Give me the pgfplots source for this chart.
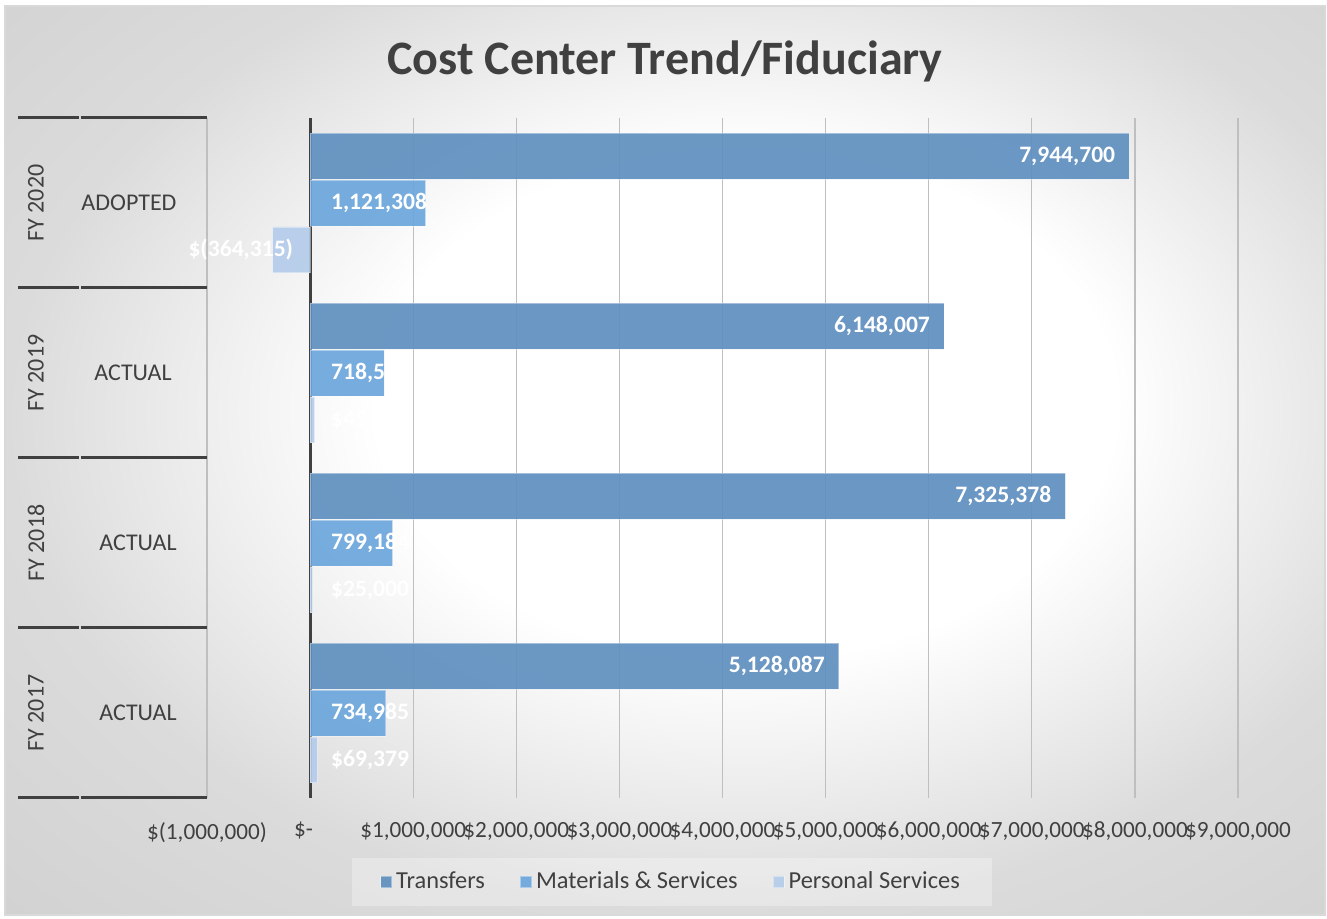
\documentclass[border=0pt]{standalone}
\usepackage{pgfplots}
\pgfplotsset{compat=1.18}
\usepackage{fontspec}
\setmainfont{Carlito}
\definecolor{txt}{HTML}{404040}
\definecolor{cT}{HTML}{5F8FBF}
\definecolor{cM}{HTML}{6CA6DC}
\definecolor{cP}{HTML}{B4CCEA}
\definecolor{grd}{HTML}{BFBFBF}
\pgfdeclareradialshading{bgshade}{\pgfpoint{4bp}{4bp}}{color(0bp)=(white); color(14bp)=(white); color(27bp)=(black!14); color(44bp)=(black!20); color(60bp)=(black!24)}
\pgfplotsset{sq legend/.style={legend image code/.code={\fill[##1] (0pt,-2.8pt) rectangle (5.6pt,2.8pt);}}}
\begin{document}
\begin{tikzpicture}[x=1pt,y=1pt]
\useasboundingbox (0,0) rectangle (663.5,459.5);
\shade[shading=bgshade] (2.5,2) rectangle (662.5,456.5);
\draw[black!15, line width=0.6pt] (2.5,2) rectangle (662.5,456.5);
\begin{axis}[
  at={(103.5pt,60.5pt)}, anchor=south west,
  scale only axis, width=515.5pt, height=340pt,
  xmin=-1000000, xmax=9000000, ymin=-0.5, ymax=3.5,
  axis x line*=bottom, axis y line*=left, axis line style={draw=none},
  xtick={-1000000,0,1000000,2000000,3000000,4000000,5000000,6000000,7000000,8000000,9000000},
  xticklabels={{\$(1,000,000)},{\$-\kern6.5pt},{\$1,000,000},{\$2,000,000},{\$3,000,000},{\$4,000,000},{\$5,000,000},{\$6,000,000},{\$7,000,000},{\$8,000,000},{\$9,000,000}},
  scaled x ticks=false,
  ytick=\empty,
  major tick length=0pt,
  xmajorgrids, major grid style={grd, line width=0.6pt},
  extra x ticks={0}, extra x tick labels={},
  extra x tick style={major grid style={txt, line width=1.6pt}},
  xticklabel style={font=\fontsize{11.6}{13}\selectfont, text=txt, yshift=-8.5pt},
  clip=false,
  legend columns=3,
  legend cell align=left,
  legend style={at={(0.451,-0.1235)}, anchor=center, draw=none, fill=white, fill opacity=0.3, text opacity=1,
    font=\fontsize{12.2}{14}\selectfont, text=txt, inner xsep=14pt, inner ysep=5pt,
    /tikz/every even column/.append style={column sep=15.5pt}},
]
\addplot[xbar, bar shift=0pt, bar width=0.27, fill=cT, fill opacity=0.92, draw=white, draw opacity=0.4, line width=0.4pt, sq legend]
  coordinates {(5128087,0.276) (7325378,1.276) (6148007,2.276) (7944700,3.276)};
\addlegendentry{Transfers}
\addplot[xbar, bar shift=0pt, bar width=0.27, fill=cM, fill opacity=0.92, draw=white, draw opacity=0.4, line width=0.4pt, sq legend]
  coordinates {(734985,0) (799184,1) (718512,2) (1121308,3)};
\addlegendentry{Materials \& Services}
\addplot[xbar, bar shift=0pt, bar width=0.27, fill=cP, fill opacity=0.92, draw=white, draw opacity=0.4, line width=0.4pt, sq legend]
  coordinates {(69379,-0.276) (25000,0.724) (45000,1.724) (-364315,2.724)};
\addlegendentry{Personal Services}
% data labels
\addplot[draw=none, forget plot, nodes near coords, point meta=explicit symbolic,
  every node near coord/.append style={anchor=east, xshift=-3.5pt, text=white, font=\bfseries\fontsize{11.8}{14}\selectfont}]
  coordinates {(5128087,0.276) [5,128,087] (7325378,1.276) [7,325,378] (6148007,2.276) [6,148,007] (7944700,3.276) [7,944,700]};
\addplot[draw=none, forget plot, nodes near coords, point meta=explicit symbolic,
  every node near coord/.append style={anchor=west, xshift=7pt, text=white, font=\bfseries\fontsize{11.8}{14}\selectfont}]
  coordinates {(0,0) [734,985] (0,1) [799,184] (0,2) [718,512] (0,3) [1,121,308]};
\addplot[draw=none, forget plot, nodes near coords, point meta=explicit symbolic,
  every node near coord/.append style={anchor=west, xshift=7pt, text=white, font=\bfseries\fontsize{11.8}{14}\selectfont}]
  coordinates {(0,-0.276) [\$69,379] (0,0.724) [\$25,000] (0,1.724) [\$45,000]};
\addplot[draw=none, forget plot, nodes near coords, point meta=explicit symbolic,
  every node near coord/.append style={anchor=east, xshift=-5pt, text=white, font=\bfseries\fontsize{11.8}{14}\selectfont}]
  coordinates {(0,2.724) [\$(364,315)]};
\end{axis}
% category axis
\foreach \Y in {400.5,315.5,230.5,145.5,60.5}{
  \draw[txt, line width=1.5pt] (9,\Y) -- (39.6,\Y);
  \draw[txt, line width=1.5pt] (40.4,\Y) -- (103.5,\Y);
}
\begin{scope}[every node/.style={text=txt, font=\fontsize{12}{14}\selectfont}]
\node[rotate=90] at (18,358) {FY 2020};
\node[rotate=90] at (18,273) {FY 2019};
\node[rotate=90] at (18,188) {FY 2018};
\node[rotate=90] at (18,103) {FY 2017};
\node at (64.5,358) {ADOPTED};
\node at (66.5,273) {ACTUAL};
\node at (69,188) {ACTUAL};
\node at (69,103) {ACTUAL};
\end{scope}
\node[anchor=base, text=txt, font=\bfseries\fontsize{24}{28}\selectfont] at (332.5,422) {Cost Center Trend/Fiduciary};
\end{tikzpicture}
\end{document}
